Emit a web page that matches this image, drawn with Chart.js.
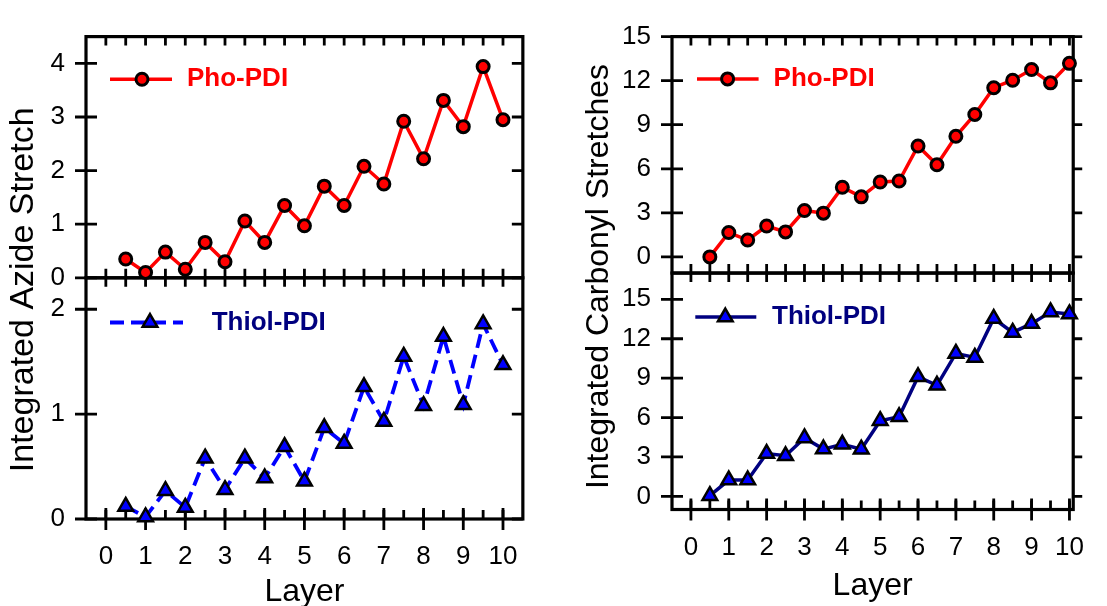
<!DOCTYPE html>
<html>
<head>
<meta charset="utf-8">
<script src="https://cdn.jsdelivr.net/npm/chart.js@4.4.1/dist/chart.umd.min.js"></script>
<style>
  html, body { margin: 0; padding: 0; background: #fff; overflow: hidden; }
  #wrap { position: relative; width: 1107px; height: 606px; }
  canvas { position: absolute; top: 0; }
  #azide { left: 0; }
  #carbonyl { left: 560px; }
</style>
</head>
<body>
<div id="wrap">
  <canvas id="azide" width="540" height="612"></canvas>
  <canvas id="carbonyl" width="547" height="612"></canvas>
</div>
<script>
// Layer number of each measurement
const layers = [0.5, 1, 1.5, 2, 2.5, 3, 3.5, 4, 4.5, 5, 5.5, 6, 6.5, 7, 7.5, 8, 8.5, 9, 9.5, 10];

// Integrated azide stretch
const phoAzide = [0.35, 0.10, 0.48, 0.16, 0.66, 0.30, 1.06, 0.66, 1.35, 0.97, 1.71, 1.35, 2.08, 1.75, 2.92, 2.22, 3.31, 2.82, 3.94, 2.95];
const thiolAzide = [0.12, 0.02, 0.27, 0.11, 0.58, 0.28, 0.58, 0.39, 0.69, 0.36, 0.87, 0.72, 1.26, 0.93, 1.55, 1.08, 1.74, 1.09, 1.86, 1.47];

// Integrated carbonyl stretches
const phoCarbonyl = [0.0, 1.66, 1.15, 2.10, 1.70, 3.16, 2.98, 4.74, 4.09, 5.10, 5.17, 7.55, 6.27, 8.21, 9.70, 11.52, 12.03, 12.76, 11.85, 13.18];
const thiolCarbonyl = [0.05, 1.24, 1.24, 3.26, 3.09, 4.45, 3.60, 3.96, 3.59, 5.76, 6.06, 9.10, 8.45, 10.88, 10.58, 13.54, 12.48, 13.15, 14.04, 13.89];

// Tick labels
const layerTicks = [0, 1, 2, 3, 4, 5, 6, 7, 8, 9, 10];
const azideTopTicks = [0, 1, 2, 3, 4];
const azideBottomTicks = [0, 1, 2];
const carbonylTicks = [0, 3, 6, 9, 12, 15];

const FONT = "'Liberation Sans', Arial, sans-serif";

const points = values => values.map((v, i) => ({ x: layers[i], y: v }));
const fixTicks = list => scale => { scale.ticks = list.map(v => ({ value: v })); };

// Draw one legend marker (circle or triangle)
function drawMarker(ctx, style, r, x, y) {
    ctx.beginPath();
    if (style === 'triangle') {
        for (let k = 0; k < 3; k++) {
            const a = k * 2 * Math.PI / 3;
            const px = x + Math.sin(a) * r, py = y - Math.cos(a) * r;
            if (k === 0) ctx.moveTo(px, py); else ctx.lineTo(px, py);
        }
        ctx.closePath();
    } else {
        ctx.arc(x, y, r, 0, Math.PI * 2);
    }
    ctx.fill();
    ctx.stroke();
}

// Box around each panel, with tick marks in Origin style
const framePlugin = {
    id: 'frame',
    beforeDatasetsDraw(chart, args, opts) {
        const ctx = chart.ctx;
        const xs = chart.scales.x;
        const { left, right, bottom } = chart.chartArea;
        const halfTicks = layerTicks.flatMap(v => [v, v + 0.5]).filter(v => v > xs.min && v < xs.max);
        ctx.save();
        ctx.strokeStyle = '#000';
        ['yTop', 'yBot'].forEach(id => {
            const ys = chart.scales[id];
            ctx.lineWidth = 2.8;
            ctx.beginPath();
            halfTicks.forEach(v => {
                const px = xs.getPixelForValue(v);
                ctx.moveTo(px, ys.top); ctx.lineTo(px, ys.top + 9);
                ctx.moveTo(px, ys.bottom); ctx.lineTo(px, ys.bottom - 9);
            });
            ys.ticks.forEach(t => {
                const py = ys.getPixelForValue(t.value);
                ctx.moveTo(left - 11, py); ctx.lineTo(left + 11, py);
                ctx.moveTo(right, py); ctx.lineTo(right + opts.rightTick, py);
            });
            ctx.stroke();
            ctx.lineWidth = 3.2;
            ctx.strokeRect(left, ys.top, right - left, ys.bottom - ys.top);
        });
        ctx.lineWidth = 2.8;
        ctx.beginPath();
        layerTicks.forEach(v => {
            const px = xs.getPixelForValue(v);
            ctx.moveTo(px, bottom - 11); ctx.lineTo(px, bottom + 11);
        });
        ctx.stroke();
        ctx.restore();
    }
};

// Legend drawn inside each panel
const legendPlugin = {
    id: 'insetLegend',
    afterDatasetsDraw(chart, args, opts) {
        const ctx = chart.ctx;
        const left = chart.chartArea.left;
        opts.items.forEach(item => {
            const ds = chart.data.datasets[item.dataset];
            const y = chart.scales[ds.yAxisID].top + item.dy;
            ctx.save();
            ctx.strokeStyle = ds.borderColor;
            ctx.lineWidth = ds.borderWidth;
            ctx.setLineDash(ds.borderDash || []);
            ctx.beginPath();
            ctx.moveTo(left + item.x0, y);
            ctx.lineTo(left + item.x1, y);
            ctx.stroke();
            ctx.setLineDash([]);
            ctx.fillStyle = ds.pointBackgroundColor;
            ctx.strokeStyle = ds.pointBorderColor;
            ctx.lineWidth = ds.pointBorderWidth;
            drawMarker(ctx, ds.pointStyle, ds.pointRadius, left + item.xm, y);
            ctx.font = 'bold 26px ' + FONT;
            ctx.fillStyle = item.color;
            ctx.textBaseline = 'middle';
            ctx.fillText(ds.label, left + item.xt, y);
            ctx.restore();
        });
    }
};

// Rotated y title shared by both panels of a column
const sideTitlePlugin = {
    id: 'sideTitle',
    afterDraw(chart, args, opts) {
        const ctx = chart.ctx;
        const area = chart.chartArea;
        ctx.save();
        ctx.translate(opts.x, (area.top + area.bottom) / 2 + opts.dy);
        ctx.rotate(-Math.PI / 2);
        ctx.font = opts.size + 'px ' + FONT;
        ctx.fillStyle = '#000';
        ctx.textAlign = 'center';
        ctx.textBaseline = 'alphabetic';
        ctx.fillText(opts.text, 0, 0);
        ctx.restore();
    }
};

const tickFont = { family: FONT, size: 26 };

function yScale(stack, min, max, list, width) {
    return {
        type: 'linear', position: 'left', stack: stack, stackWeight: 1,
        min: min, max: max,
        afterBuildTicks: fixTicks(list),
        afterFit: s => { s.width = width; },
        grid: { display: false, drawTicks: false },
        border: { display: false },
        ticks: { font: tickFont, color: '#000', padding: 21, autoSkip: false }
    };
}

function xScale(max, height, padding, titlePad) {
    return {
        type: 'linear', min: -0.5, max: max,
        afterBuildTicks: fixTicks(layerTicks),
        afterFit: s => { s.height = height; },
        grid: { display: false, drawTicks: false },
        border: { display: false },
        ticks: { font: tickFont, color: '#000', padding: padding, maxRotation: 0, autoSkip: false },
        title: {
            display: true, text: 'Layer', color: '#000',
            font: { family: FONT, size: 32, lineHeight: 1 },
            padding: { top: 0, bottom: titlePad }
        }
    };
}

const circle = {
    pointStyle: 'circle', pointRadius: 6, pointHoverRadius: 6,
    pointBackgroundColor: '#ff0000', pointBorderColor: '#000', pointBorderWidth: 3
};
const triangle = {
    pointStyle: 'triangle', pointRadius: 8.5, pointHoverRadius: 8.5,
    pointBackgroundColor: '#0000ff', pointBorderColor: '#000', pointBorderWidth: 2.5
};

new Chart(document.getElementById('azide'), {
    type: 'line',
    data: {
        datasets: [
            Object.assign({
                label: 'Pho-PDI', data: points(phoAzide), yAxisID: 'yTop',
                borderColor: '#ff0000', borderWidth: 3.5, tension: 0, clip: false
            }, circle),
            Object.assign({
                label: 'Thiol-PDI', data: points(thiolAzide), yAxisID: 'yBot',
                borderColor: '#0000ff', borderWidth: 3.8, borderDash: [14, 7], tension: 0, clip: false
            }, triangle)
        ]
    },
    options: {
        responsive: false,
        animation: false,
        layout: { padding: { top: 33, right: 12, left: 0, bottom: 0 } },
        scales: {
            x: xScale(10.5, 93, 22, 4),
            yBot: yScale('azide', 0, 2.3, azideBottomTicks, 86),
            yTop: yScale('azide', 0, 4.5, azideTopTicks, 86)
        },
        plugins: {
            legend: { display: false },
            tooltip: { enabled: false },
            frame: { rightTick: -11 },
            insetLegend: {
                items: [
                    { dataset: 0, dy: 42.7, x0: 24, x1: 86, xm: 56, xt: 101, color: '#ff0000' },
                    { dataset: 1, dy: 44.7, x0: 24, x1: 97, xm: 64, xt: 125.7, color: '#00007f' }
                ]
            },
            sideTitle: { text: 'Integrated Azide Stretch', x: 33, dy: 12, size: 34 }
        }
    },
    plugins: [framePlugin, legendPlugin, sideTitlePlugin]
});

new Chart(document.getElementById('carbonyl'), {
    type: 'line',
    data: {
        datasets: [
            Object.assign({
                label: 'Pho-PDI', data: points(phoCarbonyl), yAxisID: 'yTop',
                borderColor: '#ff0000', borderWidth: 3.5, tension: 0, clip: false
            }, circle),
            Object.assign({
                label: 'Thiol-PDI', data: points(thiolCarbonyl), yAxisID: 'yBot',
                borderColor: '#000080', borderWidth: 3.5, tension: 0, clip: false
            }, triangle)
        ]
    },
    options: {
        responsive: false,
        animation: false,
        layout: { padding: { top: 25, right: 10, left: 0, bottom: 0 } },
        scales: {
            x: xScale(10.1, 102.5, 23, 10),
            yBot: yScale('carbonyl', -1, 17, carbonylTicks, 112),
            yTop: yScale('carbonyl', -1.1, 15, carbonylTicks, 112)
        },
        plugins: {
            legend: { display: false },
            tooltip: { enabled: false },
            frame: { rightTick: 9 },
            insetLegend: {
                items: [
                    { dataset: 0, dy: 42.3, x0: 25, x1: 86.6, xm: 55.6, xt: 101.6, color: '#ff0000' },
                    { dataset: 1, dy: 44, x0: 23.3, x1: 84.3, xm: 53.3, xt: 100, color: '#00007f' }
                ]
            },
            sideTitle: { text: 'Integrated Carbonyl Stretches', x: 48, dy: 3.5, size: 32 }
        }
    },
    plugins: [framePlugin, legendPlugin, sideTitlePlugin]
});
</script>
</body>
</html>
